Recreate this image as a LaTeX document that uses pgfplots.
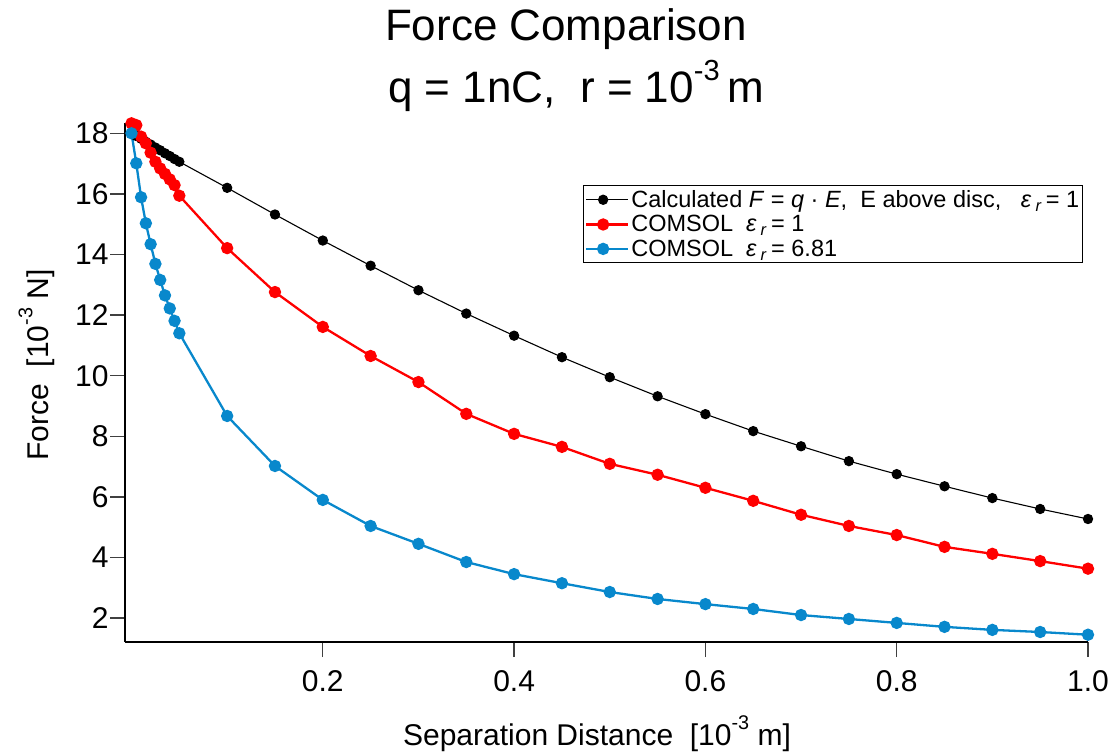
\documentclass[border=0pt]{standalone}
\usepackage{pgfplots}
\pgfplotsset{compat=1.18}
\usepackage{fontspec}
\setmainfont{Liberation Sans}
\definecolor{cblue}{RGB}{8,136,204}
\definecolor{cred}{RGB}{255,0,0}
\newcommand\sups[1]{\raisebox{0.52em}{\scalebox{0.66}{#1}}}
\begin{document}
\begin{tikzpicture}
\begin{axis}[
  at={(125pt,111pt)}, anchor=south west,
  scale only axis, width=963pt, height=519.3pt,
  xmin=-0.0068, xmax=1.0, ymin=1.21, ymax=18.35,
  axis x line*=bottom, axis y line*=left,
  axis line style={line width=1.2pt, black},
  tick align=outside, major tick length=15pt,
  tick style={line width=1.3pt, black!75},
  xtick={0.2,0.4,0.6,0.8,1.0},
  xticklabels={0.2,0.4,0.6,0.8,1.0},
  ytick={2,4,6,8,10,12,14,16,18},
  yticklabels={2,4,6,8,10,12,14,16,18},
  ticklabel style={font=\fontsize{30}{36}\selectfont},
  xticklabel style={yshift=-10pt},
  yticklabel style={xshift=2pt},
  clip=false,
  legend style={at={(rel axis cs:0.4756,0.88)}, anchor=north west,
    draw=black, line width=1pt, font=\fontsize{23.5}{26}\selectfont,
    inner xsep=1.5pt, inner ysep=3pt, row sep=2.5pt},
  legend cell align=left,
  legend image code/.code={\path (0pt,0pt) -- (42pt,0pt);\draw[mark repeat=2,mark phase=2,#1] plot coordinates {(0pt,0pt) (17pt,0pt) (34pt,0pt)};},
]
\addplot[black, line width=1.1pt, mark=*, mark size=4.6pt, mark options={solid}] coordinates {
(0,18.00) (0.005,17.91) (0.01,17.82) (0.015,17.72) (0.02,17.63) (0.025,17.53)
(0.03,17.44) (0.035,17.34) (0.04,17.25) (0.045,17.15) (0.05,17.06)
(0.1,16.20) (0.15,15.32) (0.2,14.46) (0.25,13.63) (0.3,12.82) (0.35,12.05)
(0.4,11.32) (0.45,10.61) (0.5,9.95) (0.55,9.32) (0.6,8.73) (0.65,8.17)
(0.7,7.67) (0.75,7.18) (0.8,6.75) (0.85,6.35) (0.9,5.96) (0.95,5.60) (1.0,5.27)};
\addlegendentry{Calculated \textit{F} = \textit{q} · \textit{E},\ \ E above disc,\ \ \ \textit{ε}\,\textsubscript{\textit{r}}\,= 1}
\addplot[cred, line width=2.3pt, mark=*, mark size=5pt, mark options={solid}] coordinates {
(0,18.33) (0.005,18.27) (0.01,17.89) (0.015,17.67) (0.02,17.36) (0.025,17.06)
(0.03,16.84) (0.035,16.66) (0.04,16.48) (0.045,16.29) (0.05,15.94)
(0.1,14.21) (0.15,12.76) (0.2,11.61) (0.25,10.65) (0.3,9.79) (0.35,8.74)
(0.4,8.08) (0.45,7.65) (0.5,7.09) (0.55,6.73) (0.6,6.30) (0.65,5.87)
(0.7,5.41) (0.75,5.04) (0.8,4.74) (0.85,4.35) (0.9,4.12) (0.95,3.88) (1.0,3.63)};
\addlegendentry{COMSOL\ \ \textit{ε}\,\textsubscript{\textit{r}}\,= 1}
\addplot[cblue, line width=2.3pt, mark=*, mark size=5pt, mark options={solid}] coordinates {
(0,18.00) (0.005,17.01) (0.01,15.89) (0.015,15.03) (0.02,14.34) (0.025,13.69)
(0.03,13.16) (0.035,12.65) (0.04,12.22) (0.045,11.81) (0.05,11.40)
(0.1,8.67) (0.15,7.02) (0.2,5.90) (0.25,5.04) (0.3,4.45) (0.35,3.85)
(0.4,3.45) (0.45,3.15) (0.5,2.86) (0.55,2.63) (0.6,2.46) (0.65,2.30)
(0.7,2.10) (0.75,1.97) (0.8,1.84) (0.85,1.71) (0.9,1.61) (0.95,1.54) (1.0,1.45)};
\addlegendentry{COMSOL\ \ \textit{ε}\,\textsubscript{\textit{r}}\,= 6.81}
\end{axis}
\node[anchor=base, font=\fontsize{44}{50}\selectfont] at (566pt,712pt) {Force Comparison};
\node[anchor=base, font=\fontsize{44}{50}\selectfont] at (576pt,650pt) {q = 1nC,\ \ r = 10\sups{-3}\,m};
\node[anchor=base, font=\fontsize{30}{36}\selectfont] at (597pt,8pt) {Separation Distance\ \ [10\sups{-3}\ m]};
\node[anchor=base, rotate=90, font=\fontsize{30}{36}\selectfont] at (48pt,388pt) {Force\ \ [10\sups{-3}\ N]};
\pgfresetboundingbox
\path[use as bounding box] (0,0) rectangle (1114pt,753pt);
\end{tikzpicture}
\end{document}
